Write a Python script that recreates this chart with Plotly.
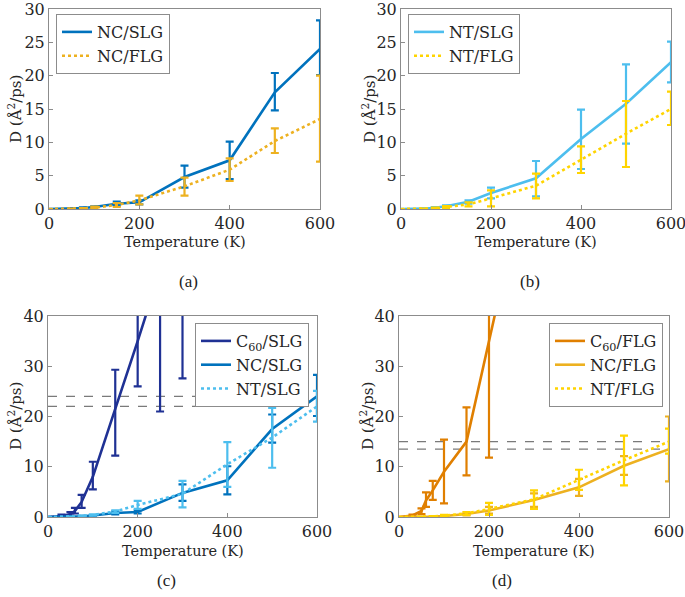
import plotly.graph_objects as go

# ---------------- data ----------------
T = [0, 50, 75, 100, 150, 200, 300, 400, 500, 600]

nc_slg = [0, 0.05, 0.15, 0.3, 0.8, 1.0, 4.8, 7.3, 17.5, 24.0]
nc_slg_hi = [0, 0.1, 0.25, 0.4, 1.1, 1.3, 6.5, 10.1, 20.4, 28.3]
nc_slg_lo = [0, 0.0, 0.05, 0.2, 0.5, 0.7, 3.2, 4.5, 14.8, 20.1]

nc_flg = [0, 0.02, 0.08, 0.2, 0.6, 1.3, 3.4, 5.9, 10.2, 13.5]
nc_flg_hi = [0, 0.05, 0.15, 0.35, 0.9, 2.0, 4.7, 7.6, 12.1, 20.0]
nc_flg_lo = [0, 0.0, 0.02, 0.1, 0.3, 0.7, 2.0, 4.2, 8.4, 7.1]

nt_slg = [0, 0.05, 0.2, 0.4, 1.1, 2.4, 4.6, 10.5, 15.8, 22.0]
nt_slg_hi = [0, 0.1, 0.3, 0.55, 1.3, 3.2, 7.2, 14.9, 21.7, 25.1]
nt_slg_lo = [0, 0.0, 0.1, 0.25, 0.8, 1.6, 1.9, 6.0, 9.8, 19.0]

nt_flg = [0, 0.02, 0.1, 0.3, 0.7, 1.6, 3.5, 7.4, 11.3, 15.0]
nt_flg_hi = [0, 0.05, 0.2, 0.45, 1.0, 2.8, 5.3, 9.4, 16.2, 17.6]
nt_flg_lo = [0, 0.0, 0.05, 0.15, 0.4, 0.4, 1.6, 5.4, 6.3, 12.6]

T_c60 = [0, 30, 50, 60, 75, 100, 150, 200, 250, 300]

c60_slg = [0, 0.2, 0.6, 1.2, 3.0, 8.0, 21.5, 35.0, 49.0, 62.0]
c60_slg_hi = [0, 0.5, 1.0, 1.8, 4.4, 11.0, 29.3, 48.0, 75.0, 95.0]
c60_slg_lo = [0, 0.05, 0.3, 0.7, 1.8, 5.5, 12.2, 26.0, 21.0, 27.6]

c60_flg = [0, 0.3, 1.2, 3.3, 5.3, 9.0, 15.0, 35.0, 55.0, 75.0]
c60_flg_hi = [0, 0.5, 1.7, 4.9, 7.2, 15.4, 21.8, 60.0, 80.0, 100.0]
c60_flg_lo = [0, 0.1, 0.6, 2.0, 3.4, 2.7, 8.3, 11.8, 40.2, 40.2]

x_ticks = [0, 200, 400, 600]
y_ticks_top = [0, 5, 10, 15, 20, 25, 30]
y_ticks_bot = [0, 10, 20, 30, 40]
panel_labels = ["(a)", "(b)", "(c)", "(d)"]
x_title = "Temperature (K)"
y_title = "D (Å<sup>2</sup>/ps)"

# ---------------- style ----------------
BLUE = "#0072BD"
LBLUE = "#4DBEEE"
ORANGE_Y = "#EDB120"
YELLOW = "#FFD400"
DBLUE = "#1F3194"
DORANGE = "#E07F00"
FONT = "DejaVu Serif"

fig = go.Figure()


def add(x, v, hi, lo, name, color, dash, xa, ya, legend):
    fig.add_trace(go.Scatter(
        x=x, y=v, name=name, mode="lines",
        line=dict(color=color, width=2.6, dash=dash),
        error_y=dict(type="data", symmetric=False,
                     array=[h - a for h, a in zip(hi, v)],
                     arrayminus=[a - l for a, l in zip(v, lo)],
                     color=color, thickness=2.2, width=4),
        xaxis=xa, yaxis=ya, legend=legend))


# (a)
add(T, nc_slg, nc_slg_hi, nc_slg_lo, "NC/SLG", BLUE, "solid", "x", "y", "legend")
add(T, nc_flg, nc_flg_hi, nc_flg_lo, "NC/FLG", ORANGE_Y, "dot", "x", "y", "legend")
# (b)
add(T, nt_slg, nt_slg_hi, nt_slg_lo, "NT/SLG", LBLUE, "solid", "x2", "y2", "legend2")
add(T, nt_flg, nt_flg_hi, nt_flg_lo, "NT/FLG", YELLOW, "dot", "x2", "y2", "legend2")
# (c)
add(T_c60, c60_slg, c60_slg_hi, c60_slg_lo, "C<sub>60</sub>/SLG", DBLUE, "solid", "x3", "y3", "legend3")
add(T, nc_slg, nc_slg_hi, nc_slg_lo, "NC/SLG", BLUE, "solid", "x3", "y3", "legend3")
add(T, nt_slg, nt_slg_hi, nt_slg_lo, "NT/SLG", LBLUE, "dot", "x3", "y3", "legend3")
# (d)
add(T_c60, c60_flg, c60_flg_hi, c60_flg_lo, "C<sub>60</sub>/FLG", DORANGE, "solid", "x4", "y4", "legend4")
add(T, nc_flg, nc_flg_hi, nc_flg_lo, "NC/FLG", ORANGE_Y, "solid", "x4", "y4", "legend4")
add(T, nt_flg, nt_flg_hi, nt_flg_lo, "NT/FLG", YELLOW, "dot", "x4", "y4", "legend4")

# dashed reference lines at the 600 K values
for xa, ya, vals in (("x3", "y3", [nc_slg[-1], nt_slg[-1]]), ("x4", "y4", [nc_flg[-1], nt_flg[-1]])):
    for v in vals:
        fig.add_shape(type="line", xref=xa + " domain", yref=ya, x0=0, x1=1, y0=v, y1=v,
                      line=dict(color="#7a7a7a", width=1.2, dash="dash"), layer="below")

W, H = 685, 597
def px(x): return x / W
def py(y): return (H - y) / H

doms = {
    "": ([px(49), px(320)], [py(209), py(9)]),
    "2": ([px(401), px(671)], [py(209), py(9)]),
    "3": ([px(48), px(317)], [py(517), py(316)]),
    "4": ([px(399), px(669)], [py(517), py(316)]),
}

axcommon = dict(showline=True, mirror=True, linecolor="#8c8c8c", linewidth=1,
                ticks="inside", ticklen=4, tickcolor="#8c8c8c", showgrid=False,
                zeroline=False, automargin=False, ticklabeloverflow="allow",
                tickfont=dict(family=FONT, size=16, color="#262626"))

layout = dict(width=W, height=H, margin=dict(l=0, r=0, t=0, b=0, pad=0),
              plot_bgcolor="white", paper_bgcolor="white",
              font=dict(family=FONT, color="#262626"))

for k, (dx, dy) in doms.items():
    yt = y_ticks_top if k in ("", "2") else y_ticks_bot
    ymax = 30 if k in ("", "2") else 40
    layout["xaxis" + k] = dict(domain=dx, anchor="y" + k, range=[0, 600], tickvals=x_ticks, **axcommon)
    layout["yaxis" + k] = dict(domain=dy, anchor="x" + k, range=[0, ymax], tickvals=yt, **axcommon)

legpos = {"legend": (56, 14, "left"), "legend2": (408, 14, "left"),
          "legend3": (309, 323, "right"), "legend4": (663, 323, "right")}
for name, (lx, ly, anc) in legpos.items():
    layout[name] = dict(x=px(lx), y=py(ly), xanchor=anc, yanchor="top",
                        bgcolor="white", bordercolor="#8c8c8c", borderwidth=1,
                        font=dict(family=FONT, size=16, color="#262626"),
                        tracegroupgap=0, itemwidth=30)

fig.update_layout(**layout)

# axis titles
for (cx, cy) in [(185, 242), (536, 242), (183, 551), (534, 551)]:
    fig.add_annotation(text=x_title, x=px(cx), y=py(cy), xref="paper", yref="paper",
                       xanchor="center", yanchor="middle",
                       showarrow=False, font=dict(family=FONT, size=14.5, color="#262626"))
for (cx, cy) in [(15, 109), (369, 109), (15, 416), (367, 416)]:
    fig.add_annotation(text=y_title, x=px(cx), y=py(cy), xref="paper", yref="paper",
                       xanchor="center", yanchor="middle",
                       textangle=-90, showarrow=False, font=dict(family=FONT, size=15, color="#262626"))

for lab, (lx, ly) in zip(panel_labels, [(188, 281), (530, 281), (166, 580), (502, 580)]):
    fig.add_annotation(text=lab, x=px(lx), y=py(ly), xref="paper", yref="paper",
                       xanchor="center", yanchor="middle",
                       showarrow=False, font=dict(family="Liberation Serif", size=17, color="#222222"))

fig.write_html("out.html", config={"displayModeBar": False},
               post_script="document.body.style.margin='0';document.body.style.padding='0';")
